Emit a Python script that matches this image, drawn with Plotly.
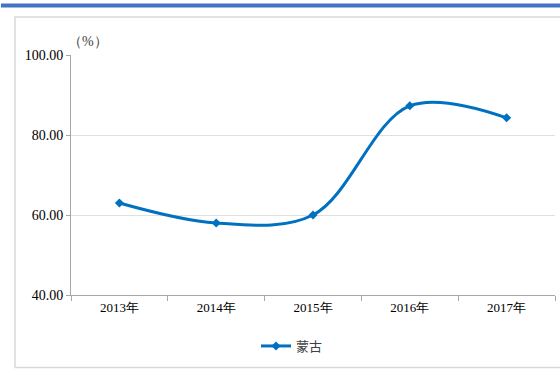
import plotly.graph_objects as go

years = ["2013年", "2014年", "2015年", "2016年", "2017年"]
mongolia = [63.0, 58.0, 60.0, 87.3, 84.3]
series_name = "蒙古"
y_ticks = [40, 60, 80, 100]

W, H = 560, 374
L, R, T, B = 71, 5, 55, 79
pw, ph = W - L - R, H - T - B


def px_x(x):
    return (x - L) / pw


def px_y(y):
    return (H - B - y) / ph


fig = go.Figure()
fig.add_trace(go.Scatter(
    x=years, y=mongolia, name=series_name,
    mode="lines+markers",
    line=dict(color="#0070C0", width=3, shape="spline", smoothing=1.0),
    marker=dict(symbol="diamond", size=7, color="#0070C0"),
))

serif = "Liberation Serif, Times New Roman, serif"
sans = "Noto Sans CJK SC, sans-serif"

fig.update_layout(
    width=W, height=H,
    margin=dict(l=L, r=R, t=T, b=B),
    paper_bgcolor="white", plot_bgcolor="white",
    showlegend=True,
    legend=dict(orientation="h", x=px_x(292), xanchor="center",
                y=px_y(346), yanchor="middle",
                font=dict(family=sans, size=13, color="#404040"),
                itemwidth=30, bgcolor="rgba(0,0,0,0)"),
    xaxis=dict(
        type="category", tickson="boundaries",
        showline=True, linecolor="#A6A6A6", linewidth=1,
        ticks="outside", ticklen=5, tickcolor="#A6A6A6",
        showgrid=False, range=[-0.5, 4.5],
        tickfont=dict(family=serif, size=13, color="#000000"),
    ),
    yaxis=dict(
        range=[40, 100], tickvals=y_ticks, tickformat=".2f",
        showline=True, linecolor="#A6A6A6", linewidth=1,
        ticks="outside", ticklen=4, tickcolor="#A6A6A6",
        showgrid=True, gridcolor="#E0E0E0", gridwidth=1,
        zeroline=False,
        tickfont=dict(family=serif, size=14, color="#000000"),
    ),
    shapes=[
        # blue header band
        dict(type="rect", xref="paper", yref="paper",
             x0=px_x(1), x1=px_x(562), y0=px_y(7.5), y1=px_y(3.5),
             fillcolor="#4472C4", line=dict(width=0), layer="above"),
        # chart frame
        dict(type="rect", xref="paper", yref="paper",
             x0=px_x(15), x1=px_x(575), y0=px_y(367.5), y1=px_y(17),
             fillcolor="rgba(0,0,0,0)", line=dict(color="#D9D9D9", width=1.5),
             layer="below"),
    ],
    annotations=[
        dict(text="（%）", xref="paper", yref="paper",
             x=px_x(66), y=px_y(42), xanchor="left", yanchor="middle",
             showarrow=False, font=dict(family=serif, size=14, color="#404040")),
    ],
)

fig.write_html("out.html")
